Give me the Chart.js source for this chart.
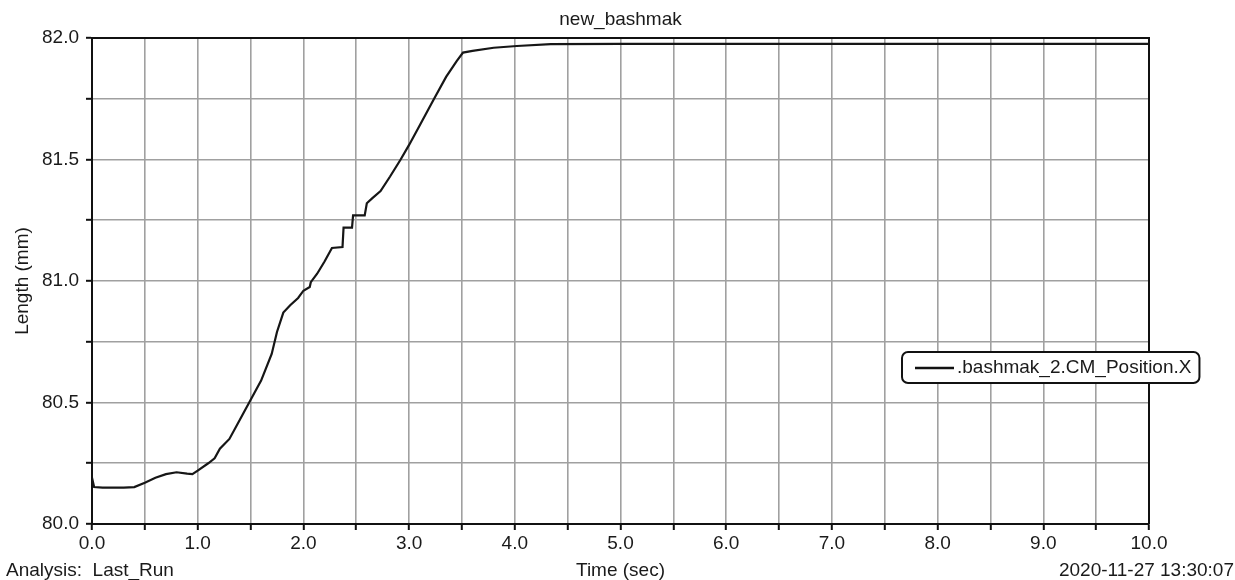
<!DOCTYPE html>
<html>
<head>
<meta charset="utf-8">
<script src="https://cdn.jsdelivr.net/npm/chart.js@4.4.1/dist/chart.umd.min.js"></script>
<style>
  html, body { margin: 0; padding: 0; background: #fff; }
  #wrap { width: 1235px; height: 580px; position: relative; }
</style>
</head>
<body>
<div id="wrap"><canvas id="c" width="1235" height="580"></canvas></div>
<script>
// ---- data ----
const chartTitle = "new_bashmak";
const seriesName = ".bashmak_2.CM_Position.X";
const xAxisTitle = "Time (sec)";
const yAxisTitle = "Length (mm)";
const footLeft = "Analysis:  Last_Run";
const footRight = "2020-11-27 13:30:07";

const timeSec = [0, 0.02, 0.1, 0.2, 0.3, 0.4, 0.5, 0.6, 0.7, 0.8, 0.9, 0.95, 1.0, 1.1, 1.16, 1.21, 1.3, 1.4, 1.5, 1.6, 1.7, 1.75, 1.81, 1.875, 1.95, 2.0, 2.06, 2.07, 2.13, 2.2, 2.27, 2.37, 2.38, 2.46, 2.47, 2.58, 2.6, 2.65, 2.73, 2.82, 2.92, 3.0, 3.1, 3.23, 3.35, 3.45, 3.51, 3.6, 3.8, 4.02, 4.34, 5.0, 10.0];
const lengthMm = [80.19, 80.152, 80.15, 80.15, 80.15, 80.152, 80.17, 80.19, 80.205, 80.213, 80.207, 80.205, 80.22, 80.25, 80.27, 80.31, 80.35, 80.43, 80.51, 80.59, 80.70, 80.79, 80.87, 80.90, 80.93, 80.96, 80.975, 80.995, 81.03, 81.08, 81.136, 81.14, 81.22, 81.22, 81.27, 81.27, 81.32, 81.34, 81.37, 81.43, 81.50, 81.56, 81.64, 81.745, 81.84, 81.905, 81.94, 81.947, 81.96, 81.967, 81.975, 81.976, 81.976];

const xMin = 0, xMax = 10, xStep = 0.5;
const yMin = 80, yMax = 82, yStep = 0.25;

const FONT = "'Liberation Sans', Arial, sans-serif";
const FS = 19;

const points = timeSec.map((t, i) => ({ x: t, y: lengthMm[i] }));

const decorPlugin = {
  id: 'decor',
  beforeDraw(chart) {
    const ctx = chart.ctx;
    ctx.save();
    ctx.fillStyle = '#fff';
    ctx.fillRect(0, 0, chart.width, chart.height);
    ctx.restore();
  },
  afterDraw(chart) {
    const ctx = chart.ctx;
    const a = chart.chartArea;
    ctx.save();
    // frame top & right
    ctx.strokeStyle = '#111';
    ctx.lineWidth = 2;
    ctx.beginPath();
    ctx.moveTo(a.left, a.top);
    ctx.lineTo(a.right, a.top);
    ctx.lineTo(a.right, a.bottom);
    ctx.stroke();

    ctx.fillStyle = '#1a1a1a';
    ctx.font = FS + 'px ' + FONT;
    // title
    ctx.textAlign = 'center';
    ctx.textBaseline = 'alphabetic';
    ctx.fillText(chartTitle, (a.left + a.right) / 2, 25);
    // x axis title
    ctx.fillText(xAxisTitle, (a.left + a.right) / 2, 576);
    // footers
    ctx.textAlign = 'left';
    ctx.fillText(footLeft, 6, 576);
    ctx.textAlign = 'right';
    ctx.fillText(footRight, 1234, 576);
    // y axis title
    ctx.save();
    ctx.translate(28, (a.top + a.bottom) / 2);
    ctx.rotate(-Math.PI / 2);
    ctx.textAlign = 'center';
    ctx.textBaseline = 'alphabetic';
    ctx.fillText(yAxisTitle, 0, 0);
    ctx.restore();

    // legend box
    const lx = 902, ly = 352, lh = 31;
    ctx.font = FS + 'px ' + FONT;
    const tw = ctx.measureText(seriesName).width;
    const lw = (957 - lx) + tw + 8;
    ctx.beginPath();
    if (ctx.roundRect) ctx.roundRect(lx, ly, lw, lh, 6); else ctx.rect(lx, ly, lw, lh);
    ctx.fillStyle = '#fff';
    ctx.fill();
    ctx.lineWidth = 2;
    ctx.strokeStyle = '#111';
    ctx.stroke();
    ctx.beginPath();
    ctx.moveTo(915, ly + 16);
    ctx.lineTo(954, ly + 16);
    ctx.lineWidth = 2.5;
    ctx.stroke();
    ctx.fillStyle = '#1a1a1a';
    ctx.textAlign = 'left';
    ctx.textBaseline = 'middle';
    ctx.fillText(seriesName, 957, ly + 16);
    ctx.restore();
  }
};

new Chart(document.getElementById('c'), {
  type: 'line',
  data: {
    datasets: [{
      label: seriesName,
      data: points,
      borderColor: '#161616',
      borderWidth: 2.2,
      pointRadius: 0,
      tension: 0,
      fill: false
    }]
  },
  options: {
    responsive: false,
    animation: false,
    events: [],
    layout: { padding: { top: 38, right: 86, left: 0, bottom: 0 } },
    plugins: { legend: { display: false }, title: { display: false }, tooltip: { enabled: false } },
    scales: {
      x: {
        type: 'linear', min: xMin, max: xMax,
        afterFit(s) { s.height = 56; },
        ticks: {
          stepSize: xStep, autoSkip: false, maxRotation: 0,
          color: '#1a1a1a', font: { family: FONT, size: FS }, padding: 2,
          callback: v => (Math.abs(v - Math.round(v)) < 1e-9 ? v.toFixed(1) : '')
        },
        grid: { color: '#a0a0a0', lineWidth: 1.6, tickLength: 6, tickColor: '#111', tickWidth: 2 },
        border: { color: '#111', width: 2 }
      },
      y: {
        type: 'linear', min: yMin, max: yMax,
        afterFit(s) { s.width = 92; },
        ticks: {
          stepSize: yStep, autoSkip: false,
          color: '#1a1a1a', font: { family: FONT, size: FS }, padding: 7,
          callback: v => (Math.abs(v * 2 - Math.round(v * 2)) < 1e-9 ? v.toFixed(1) : '')
        },
        grid: { color: '#a0a0a0', lineWidth: 1.6, tickLength: 6, tickColor: '#111', tickWidth: 2 },
        border: { color: '#111', width: 2 }
      }
    }
  },
  plugins: [decorPlugin]
});
</script>
</body>
</html>
